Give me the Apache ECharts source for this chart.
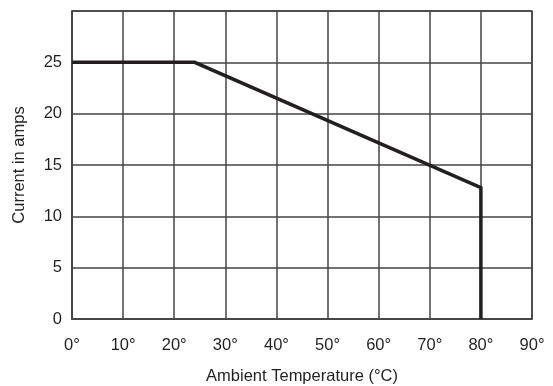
<!DOCTYPE html>
<html><head><meta charset="utf-8">
<script src="https://cdn.jsdelivr.net/npm/echarts@6/dist/echarts.min.js"></script>
<style>html,body{margin:0;padding:0;background:#fff}#c{width:553px;height:386px}</style>
</head><body><div id="c"></div>
<script>
const xTicks = [0,10,20,30,40,50,60,70,80,90];
const yTicks = [0,5,10,15,20,25];
const temperature = [0, 24, 80, 80];
const current = [25, 25, 12.8, 0];
const chart = echarts.init(document.getElementById('c'));
const font = 'Liberation Sans, Arial, sans-serif';
chart.setOption({
  animation:false,
  grid:{left:72,right:21,top:11,bottom:67,show:true,borderColor:'#444',borderWidth:1.5,containLabel:false,outerBoundsMode:'none'},
  xAxis:{type:'value',min:0,max:90,interval:10,
    name:'Ambient Temperature (°C)',nameLocation:'middle',nameGap:49,
    nameTextStyle:{color:'#231f20',fontSize:16.5,fontFamily:font},
    axisLine:{show:true,lineStyle:{color:'#444',width:1.5}},axisTick:{show:false},
    axisLabel:{color:'#231f20',fontSize:16.5,fontFamily:font,margin:18,formatter:v=>xTicks.includes(v)?v+'°':''},
    splitLine:{show:true,lineStyle:{color:'#444',width:1.5}}},
  yAxis:{type:'value',min:0,max:30,interval:5,
    name:'Current in amps',nameLocation:'middle',nameGap:44,
    nameTextStyle:{color:'#231f20',fontSize:16.5,fontFamily:font},
    axisLine:{show:true,lineStyle:{color:'#444',width:1.5}},axisTick:{show:false},
    axisLabel:{color:'#231f20',fontSize:16.5,fontFamily:font,margin:10,formatter:v=>yTicks.includes(v)?String(v):''},
    splitLine:{show:true,lineStyle:{color:'#444',width:1.5}}},
  series:[{type:'line',data:temperature.map((t,i)=>[t,current[i]]),symbol:'none',
    lineStyle:{color:'#231f20',width:3.5,join:'miter'},z:5}]
});
</script></body></html>
